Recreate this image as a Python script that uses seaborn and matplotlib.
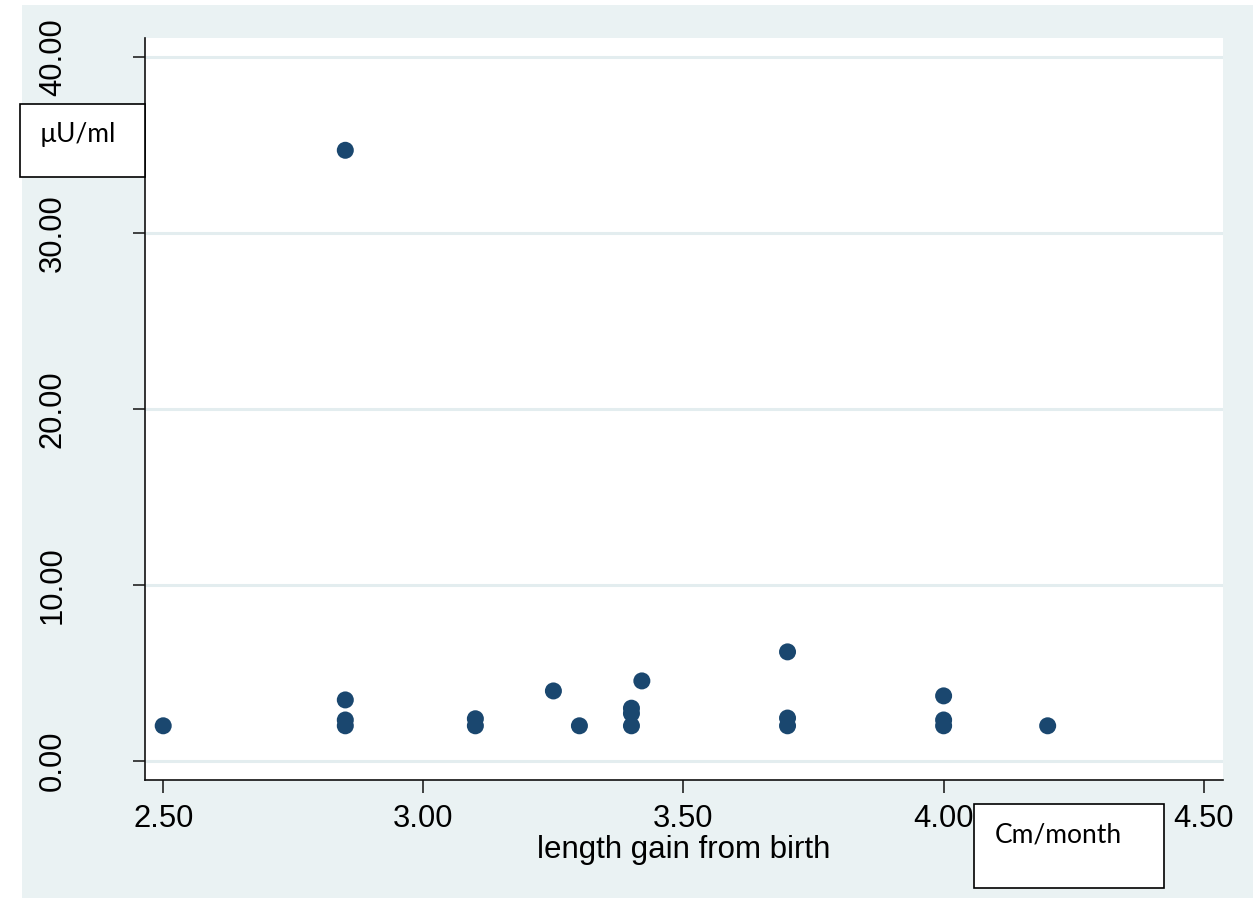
import matplotlib
matplotlib.use("Agg")
import matplotlib.pyplot as plt
from matplotlib.patches import Rectangle
from matplotlib.ticker import FormatStrFormatter
import seaborn as sns
import pandas as pd

# Length gain from birth (cm/month) and insulin level (µU/ml)
length_gain = [2.50, 2.85, 2.85, 2.85, 2.85, 3.10, 3.10, 3.25, 3.30, 3.40,
               3.40, 3.40, 3.42, 3.70, 3.70, 3.70, 4.00, 4.00, 4.00, 4.20]
insulin = [2.00, 34.70, 3.47, 2.33, 2.00, 2.40, 2.00, 3.98, 2.00, 3.00,
           2.70, 2.00, 4.55, 6.20, 2.44, 2.00, 3.70, 2.33, 2.00, 2.00]
x_ticks = [2.5, 3.0, 3.5, 4.0, 4.5]
y_ticks = [0, 10, 20, 30, 40]

df = pd.DataFrame({"gain": length_gain, "insulin": insulin})

sns.set_theme(style="white")
plt.rcParams["font.family"] = ["Liberation Sans", "DejaVu Sans"]

W, H = 1253, 898
fig = plt.figure(figsize=(W / 100, H / 100), dpi=100, facecolor="white")

# Light bluish outer background
fig.patches.append(Rectangle((22 / W, 0.0), 1 - 22 / W, 1 - 5 / H,
                             transform=fig.transFigure, facecolor="#EAF2F3",
                             edgecolor="none", zorder=-10))

ax = fig.add_axes([145 / W, 1 - 780 / H, (1223 - 145) / W, (780 - 38) / H])
ax.set_facecolor("white")

sns.scatterplot(data=df, x="gain", y="insulin", ax=ax, color="#1A476F",
                s=150, edgecolor="none", linewidth=0, zorder=3)

ax.set_xlim(2.465, 4.537)
ax.set_ylim(-1.08, 41.08)
ax.set_xticks(x_ticks)
ax.set_yticks(y_ticks)
ax.xaxis.set_major_formatter(FormatStrFormatter("%.2f"))
ax.yaxis.set_major_formatter(FormatStrFormatter("%.2f"))

for yv in y_ticks:
    ax.axhline(yv, color="#E3EDEF", linewidth=2.2, zorder=1)

for side in ["top", "right"]:
    ax.spines[side].set_visible(False)
for side in ["left", "bottom"]:
    ax.spines[side].set_color("#111111")
    ax.spines[side].set_linewidth(1.2)

ax.tick_params(axis="x", direction="out", length=9, width=1.1, color="#111111",
               labelsize=22.3, labelcolor="black", pad=8, bottom=True)
ax.tick_params(axis="y", direction="out", length=8.6, width=1.1, color="#111111",
               labelsize=22.3, labelcolor="black", pad=47, left=True)
for lbl in ax.get_yticklabels():
    lbl.set_rotation(90)
    lbl.set_va("center")

ax.set_xlabel("length gain from birth", fontsize=22.5, labelpad=1, color="black")
ax.set_ylabel("")

# Unit boxes
box_font = ["Lato", "DejaVu Sans"]


def unit_box(x0, y0, x1, y1, text, tx, ty):
    fig.patches.append(Rectangle((x0 / W, 1 - y1 / H), (x1 - x0) / W, (y1 - y0) / H,
                                 transform=fig.transFigure, facecolor="white",
                                 edgecolor="black", linewidth=1.2, zorder=5))
    fig.text(tx / W, 1 - ty / H, text, fontsize=19, family=box_font,
             ha="left", va="baseline", color="black", zorder=6)


unit_box(20, 104, 145, 177, "µU/ml", 40, 142)
unit_box(974, 804, 1164, 888, "Cm/month", 995, 843)

fig.savefig("out.png", dpi=100, facecolor="white")
